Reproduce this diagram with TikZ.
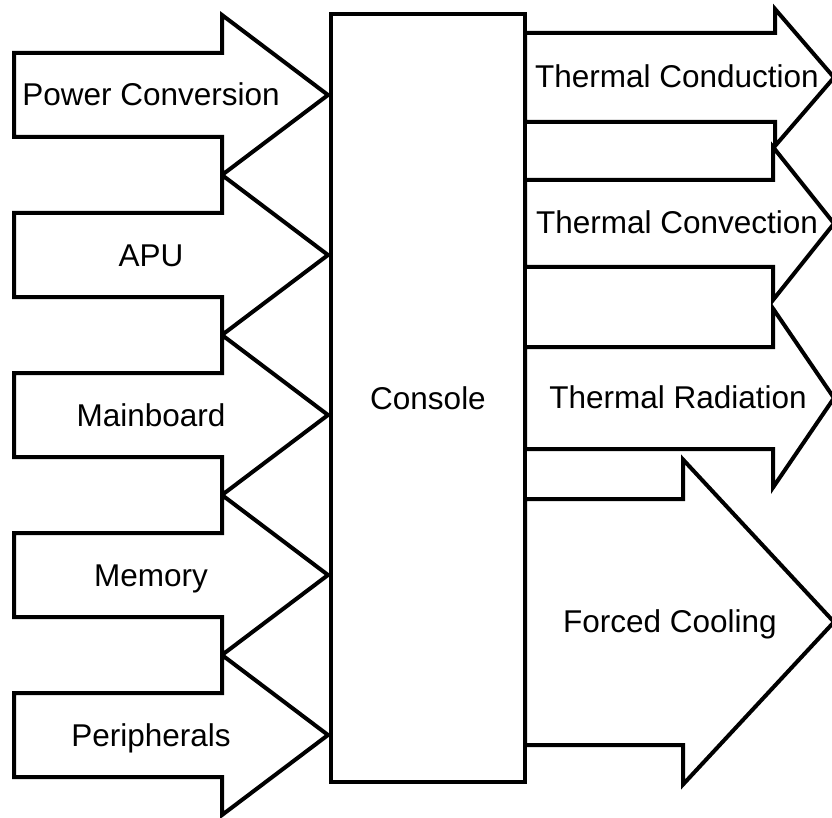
\documentclass[tikz,border=0pt]{standalone}
\usepackage{fontspec}
\setmainfont{Liberation Sans}
\usetikzlibrary{positioning}

\begin{document}
\begin{tikzpicture}[
    x=1pt, y=-1pt,
    blockarrow/.style={draw, line width=4pt, fill=white, line join=miter},
    lbl/.style={font=\fontsize{31.5}{38}\selectfont, anchor=base},
    box/.style={draw, line width=4.5pt, fill=white, minimum width=194pt,
        minimum height=768pt, font=\fontsize{31.5}{38}\selectfont},
]
    \clip (0,0) rectangle (832,818);

    % Inputs on the left -- one block arrow per heat source
    \foreach \c/\name/\label in {
        95/pwr/Power Conversion, 255/apu/APU, 415/board/Mainboard,
        575/mem/Memory, 735/peri/Peripherals}
    {
        \draw[blockarrow] (14,\c-42) -- (222,\c-42) -- (222,\c-80)
            -- (328,\c) -- (222,\c+80) -- (222,\c+42) -- (14,\c+42) -- cycle;
        \node[lbl] (\name) at (151,\c+11) {\label};
    }

    % Outputs on the right -- centre/shaft/head/base of each arrow
    \foreach \c/\s/\h/\b/\tx/\name/\label in {
        77.5/44.5/68.5/775/677/cond/Thermal Conduction,
        223.5/43.5/76.5/773/677/conv/Thermal Convection,
        398/51/89.5/773/678/rad/Thermal Radiation,
        622/123/162.5/683/670/fan/Forced Cooling}
    {
        \draw[blockarrow] (525,\c-\s) -- (\b,\c-\s) -- (\b,\c-\h)
            -- (834,\c) -- (\b,\c+\h) -- (\b,\c+\s) -- (525,\c+\s) -- cycle;
        \node[lbl] (\name) at (\tx,\c+10) {\label};
    }

    % Console in the middle
    \node[box] (console) at (428,398) {Console};
\end{tikzpicture}
\end{document}
